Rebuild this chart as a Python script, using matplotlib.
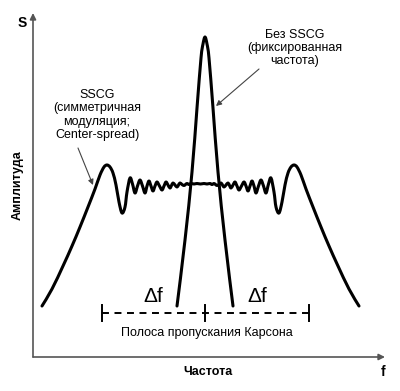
import numpy as np
import matplotlib
matplotlib.use("Agg")
import matplotlib.pyplot as plt
from matplotlib.path import Path
from matplotlib.patches import PathPatch

plt.rcParams['font.family'] = ['Liberation Sans', 'DejaVu Sans']
plt.rcParams['lines.scale_dashes'] = False

# SSCG spectrum, left half (frequency, amplitude), mirrored about the centre
sscg_f = [9, 19, 30, 39, 47, 55, 62, 67, 71, 74, 77, 80, 83, 86, 89, 92, 94, 97,
          99.5, 102, 104.5, 107, 109.5, 112, 114, 116, 118, 120, 122, 124, 126.5,
          129, 131, 133, 135, 137, 138.5, 140, 142, 144, 145.5, 147, 149, 151,
          152.5, 154, 156, 158, 161, 164, 167.5]
sscg_a = [51, 68, 91, 111, 130, 150, 168, 182, 190, 192, 190, 184, 172, 155, 144,
          150, 165, 179, 173, 164, 171, 177, 171, 164, 171, 176, 171, 166, 171, 175,
          171, 167, 171, 175, 172, 169, 171.5, 174, 172, 170, 172, 174, 172.5,
          171.5, 172.5, 173.5, 172.5, 173.5, 173, 173.5, 173]
sscg_center = 167.5

# fixed-frequency spectrum (no SSCG)
fixed_f = [144, 152, 159, 164, 168, 170, 172, 174, 176, 180, 185, 192, 200]
fixed_a = [51, 117, 185, 249, 299, 313, 320, 313, 299, 249, 185, 117, 51]

# Carson bandwidth marker
carson_left, carson_mid, carson_right = 68.5, 172, 276
carson_level = 44


def smooth_path(xs, ys):
    p = np.column_stack([xs, ys]).astype(float)
    p = np.vstack([p[0], p, p[-1]])
    verts = [p[1]]
    codes = [Path.MOVETO]
    for i in range(1, len(p) - 2):
        c1 = p[i] + (p[i + 1] - p[i - 1]) / 6
        c2 = p[i + 1] - (p[i + 2] - p[i]) / 6
        verts += [c1, c2, p[i + 1]]
        codes += [Path.CURVE4] * 3
    return Path(verts, codes)


fig = plt.figure(figsize=(4, 3.91), dpi=100)
ax = fig.add_axes([0, 0, 1, 1])
ax.set_xlim(-33, 367)
ax.set_ylim(-34, 357)
ax.axis('off')

# axes with arrows
axis_col = '#555555'
ax.annotate('', xy=(0, 344), xytext=(0, 0),
            arrowprops=dict(arrowstyle='-|>', color=axis_col, lw=1.2,
                            mutation_scale=9, shrinkA=0, shrinkB=0))
ax.annotate('', xy=(352, 0), xytext=(0, 0),
            arrowprops=dict(arrowstyle='-|>', color=axis_col, lw=1.2,
                            mutation_scale=9, shrinkA=0, shrinkB=0))

# full SSCG curve
f_full = sscg_f + [2 * sscg_center - v for v in sscg_f[-2::-1]]
a_full = sscg_a + sscg_a[-2::-1]
ax.add_patch(PathPatch(smooth_path(f_full, a_full), fill=False, lw=2.2,
                       ec='black', capstyle='round', joinstyle='round'))
ax.add_patch(PathPatch(smooth_path(fixed_f, fixed_a), fill=False, lw=2.2,
                       ec='black', capstyle='round', joinstyle='round'))

# Carson bandwidth bar
ax.plot([carson_left, carson_right], [carson_level, carson_level], color='black',
        lw=1.4, dashes=(5, 4))
for xv in (carson_left, carson_mid, carson_right):
    ax.plot([xv, xv], [carson_level - 8, carson_level + 8], color='black', lw=1.4)
ax.text(120, 61, 'Δf', fontsize=15, ha='center', va='center')
ax.text(224, 61, 'Δf', fontsize=15, ha='center', va='center')
ax.text(174, 24, 'Полоса пропускания Карсона', fontsize=9, ha='center', va='center')

# annotations
ax.text(64, 242, 'SSCG\n(симметричная\nмодуляция;\nCenter-spread)', fontsize=9,
        ha='center', va='center', linespacing=1.15)
ax.annotate('', xy=(60, 172), xytext=(45, 209),
            arrowprops=dict(arrowstyle='-|>', color='#444444', lw=0.8,
                            mutation_scale=8, shrinkA=0, shrinkB=0))
ax.text(262, 309, 'Без SSCG\n(фиксированная\nчастота)', fontsize=9,
        ha='center', va='center', linespacing=1.15)
ax.annotate('', xy=(183, 251), xytext=(226, 288),
            arrowprops=dict(arrowstyle='-|>', color='#444444', lw=0.8,
                            mutation_scale=8, shrinkA=0, shrinkB=0))

# axis labels
ax.text(-11, 334, 'S', fontsize=10, fontweight='bold', ha='center', va='center')
ax.text(350, -15, 'f', fontsize=10, fontweight='bold', ha='center', va='center')
ax.text(175, -15, 'Частота', fontsize=9, fontweight='bold', ha='center', va='center')
ax.text(-15, 172, 'Амплитуда', fontsize=9, fontweight='bold', ha='center',
        va='center', rotation=90)

fig.savefig('out.png', dpi=100)
